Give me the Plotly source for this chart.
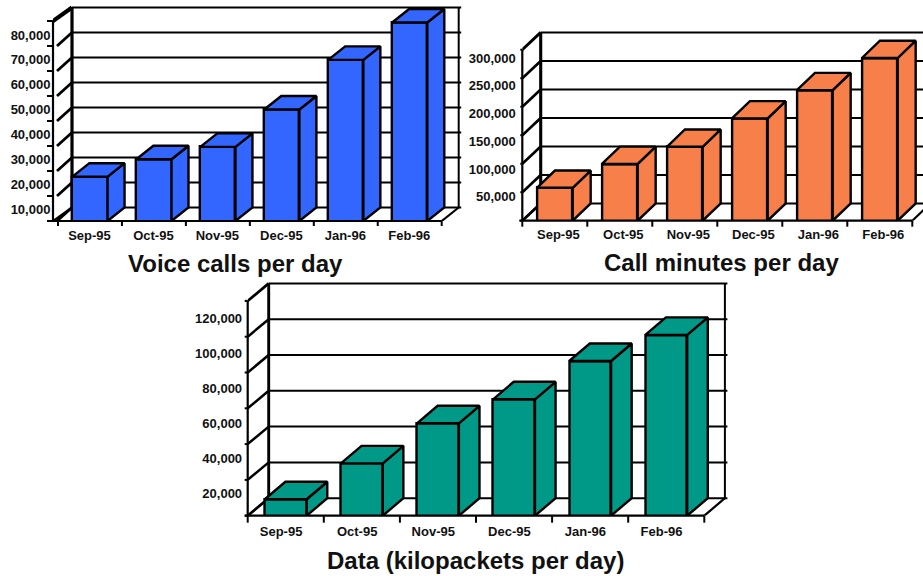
import plotly.graph_objects as go

categories = ["Sep-95", "Oct-95", "Nov-95", "Dec-95", "Jan-96", "Feb-96"]
voice_calls = [23000, 30000, 35000, 50000, 70000, 85000]
call_minutes = [66000, 109000, 140000, 191000, 242000, 300000]
data_kilopackets = [16600, 37100, 60000, 73700, 95600, 110500]
voice_ticks = [10000, 20000, 30000, 40000, 50000, 60000, 70000, 80000]
minutes_ticks = [50000, 100000, 150000, 200000, 250000, 300000]
data_ticks = [20000, 40000, 60000, 80000, 100000, 120000]

W, H = 923, 576
FONT = "Liberation Sans"

charts = [
    dict(values=voice_calls, ticks=voice_ticks, color="#3366FF", title="Voice calls per day",
         title_x=235, title_y=263, tick0=58, cat_w=63.95, corner=53, base_y=221,
         back_l=72, dx=17, dy=13.5, lab_v=10000, lab_y=209, v_per_px=10000 / 24.86,
         grid_px=25.0, n_grid=8, lab_off=-0.5, left_tick=6, bottom_tick=5, diag_gap=4,
         wall_w=2.8, top_w=4.0, xlab_len=2, ylab_len=1, ylab_off=-2),
    dict(values=call_minutes, ticks=minutes_ticks, color="#F77F4A", title="Call minutes per day",
         title_x=721, title_y=262, tick0=522.3, cat_w=65.0, corner=522.3, base_y=220.7,
         back_l=540.7, dx=18, dy=17.3, lab_v=50000, lab_y=196.7, v_per_px=50000 / 27.74,
         grid_px=28.5, n_grid=6, lab_off=3.5, left_tick=2, bottom_tick=6, diag_gap=0,
         wall_w=2.7, top_w=2.9, xlab_len=2, ylab_len=3, ylab_off=0),
    dict(values=data_kilopackets, ticks=data_ticks, color="#009988", title="Data (kilopackets per day)",
         title_x=475.5, title_y=560, tick0=247.7, cat_w=76.1, corner=247.7, base_y=515.7,
         back_l=268.7, dx=20.6, dy=17.5, lab_v=20000, lab_y=493.3, v_per_px=20000 / 35.0,
         grid_px=35.8, n_grid=6, lab_off=-4.7, left_tick=3, bottom_tick=7, diag_gap=0,
         wall_w=2.5, top_w=2.7, xlab_len=4, ylab_len=2, ylab_off=0),
]

BAR_W = 0.55
GRID_W = 2.0
EDGE_W = 2.4
fig = go.Figure()
layout = dict(
    width=W, height=H, margin=dict(l=0, r=0, t=0, b=0), autosize=False,
    paper_bgcolor="white", plot_bgcolor="white", showlegend=False, hovermode=False,
    bargap=0, shapes=[], annotations=[],
)

for n, c in enumerate(charts, start=1):
    sfx = "" if n == 1 else str(n)
    xa, ya = "x" + sfx, "y" + sfx
    cw, vpp = c["cat_w"], c["v_per_px"]
    xval = lambda px, c=c: (px - c["tick0"]) / c["cat_w"] - 0.5
    yval = lambda py, c=c: c["lab_v"] + (c["lab_y"] - py) * c["v_per_px"]

    top_px = c["base_y"] - c["dy"] - c["grid_px"] * c["n_grid"] - 4
    right_px = min(W, c["tick0"] + 6 * cw + c["dx"] + 5)
    base_v = yval(c["base_y"])
    dxu, dyu = c["dx"] / cw, c["dy"] * vpp
    step = c["grid_px"] * vpp
    right_front = 5.5
    left_front = xval(c["corner"])
    back_left = xval(c["back_l"])
    back_right = right_front + dxu
    grid_vals = [base_v + k * step for k in range(c["n_grid"] + 1)]

    layout["xaxis" + sfx] = dict(
        domain=[c["corner"] / W, right_px / W], range=[left_front, xval(right_px)],
        anchor=ya, tickmode="array", tickvals=[i + c["lab_off"] / cw for i in range(6)],
        ticktext=categories, showgrid=False, zeroline=False, showline=False,
        ticks="outside", ticklen=c["xlab_len"], tickcolor="rgba(0,0,0,0)",
        tickfont=dict(family=FONT, size=13, color="#111111", weight=700),
    )
    layout["yaxis" + sfx] = dict(
        domain=[1 - c["base_y"] / H, 1 - top_px / H], range=[base_v, yval(top_px)],
        anchor=xa, tickmode="array", tickvals=c["ticks"],
        ticktext=[f"{v:,}" for v in c["ticks"]], showgrid=False, zeroline=False, showline=False,
        ticks="outside", ticklen=c["ylab_len"], tickcolor="rgba(0,0,0,0)",
        ticklabelstandoff=c["ylab_off"],
        tickfont=dict(family=FONT, size=13, color="#111111", weight=700),
    )

    def seg(x0, y0, x1, y1, w=GRID_W):
        layout["shapes"].append(dict(
            type="line", xref=xa, yref=ya, x0=x0, y0=y0, x1=x1, y1=y1, layer="below",
            line=dict(color="black", width=w)))

    # the frame that stands behind the bars
    gap = xval(c["corner"] + c["diag_gap"])
    for k, gv in enumerate(grid_vals):
        seg(back_left, gv + dyu, back_right + 2.5 / cw, gv + dyu)
        if k == c["n_grid"]:
            seg(left_front, gv, back_left, gv + dyu, c["top_w"])
        else:
            seg(gap, gv, back_left, gv + dyu, c["wall_w"])
    seg(back_left, base_v + dyu, back_left, grid_vals[-1] + dyu, c["wall_w"] + 0.4)
    seg(back_right, base_v + dyu, back_right, grid_vals[-1] + dyu, GRID_W)
    seg(right_front, base_v, back_right, base_v + dyu, 2.2)
    seg(left_front, base_v, back_left, base_v + dyu, 2.2)

    fig.add_trace(go.Bar(
        x=list(range(6)), y=c["values"], width=BAR_W, xaxis=xa, yaxis=ya,
        marker=dict(color=c["color"], line=dict(color="black", width=EDGE_W)),
    ))

    # top and side faces derived from the values
    hw = BAR_W / 2
    top_x, top_y, side_x, side_y = [], [], [], []
    for i, v in enumerate(c["values"]):
        l, r = i - hw, i + hw
        top_x += [l, r, r + dxu, l + dxu, l, None]
        top_y += [v, v, v + dyu, v + dyu, v, None]
        side_x += [r, r + dxu, r + dxu, r, r, None]
        side_y += [base_v, base_v + dyu, v + dyu, v, base_v, None]
    for fx, fy in ((side_x, side_y), (top_x, top_y)):
        fig.add_trace(go.Scatter(
            x=fx, y=fy, mode="lines", fill="toself", fillcolor=c["color"], xaxis=xa, yaxis=ya,
            line=dict(color="black", width=EDGE_W), hoverinfo="skip",
        ))

    # front frame and tick marks fall on or past the plot edge, so they use page coordinates
    def front(x0, y0, x1, y1, w=GRID_W):
        layout["shapes"].append(dict(
            type="line", xref="paper", yref="paper", x0=x0 / W, y0=1 - y0 / H, x1=x1 / W, y1=1 - y1 / H,
            layer="above", line=dict(color="black", width=w)))

    px_y = lambda v, c=c: c["lab_y"] - (v - c["lab_v"]) / c["v_per_px"]
    px_x = lambda k, c=c: c["tick0"] + (k + 0.5) * c["cat_w"]
    front(c["corner"] - 3, c["base_y"], px_x(5.5), c["base_y"], 2.2)
    front(c["corner"], c["base_y"], c["corner"], px_y(grid_vals[-1]), 2.2)
    for gv in grid_vals:
        front(c["corner"] - c["left_tick"], px_y(gv), c["corner"], px_y(gv), 2.0)
    for k in range(7):
        front(px_x(k - 0.5), c["base_y"], px_x(k - 0.5), c["base_y"] + c["bottom_tick"], 2.0)

    layout["annotations"].append(dict(
        text=c["title"], xref="paper", yref="paper", x=c["title_x"] / W, y=1 - c["title_y"] / H,
        xanchor="center", yanchor="middle", showarrow=False,
        font=dict(family=FONT, size=24, color="#111111", weight=700),
    ))

fig.update_layout(**layout)
fig.write_html(
    "out.html",
    config=dict(displayModeBar=False),
    post_script="document.body.style.margin='0';document.body.style.overflow='hidden';",
)
